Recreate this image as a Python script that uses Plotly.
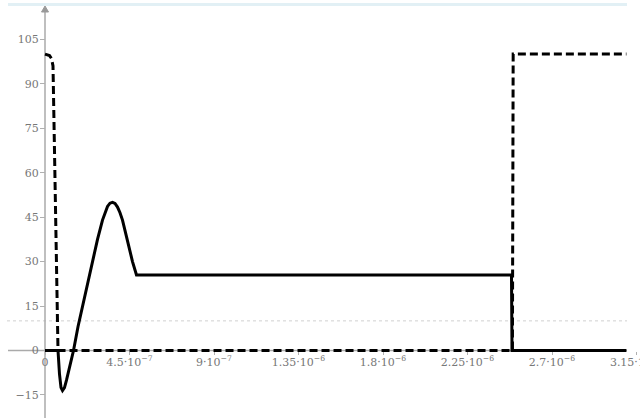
import plotly.graph_objects as go

# Solid curve (time in seconds, value)
solid_t = [0, 6.92e-8, 7.72e-8, 8.52e-8, 9.32e-8, 1.038e-7, 1.145e-7, 1.305e-7,
           1.518e-7, 1.757e-7, 1.997e-7, 2.263e-7, 2.529e-7, 2.796e-7, 3.062e-7,
           3.195e-7, 3.328e-7, 3.461e-7, 3.594e-7, 3.727e-7, 3.861e-7, 3.994e-7,
           4.127e-7, 4.393e-7, 4.659e-7, 4.872e-7,
           2.484e-6, 2.487e-6, 3.096e-6]
solid_v = [0, 0, -8, -12.5, -13.5, -12.5, -10, -5.5,
           0, 8, 15, 22.5, 30, 37.5, 44,
           46.7, 48.6, 49.7, 50, 49.6, 48.4, 46.5,
           44, 37, 30, 25.5,
           25.5, 0, 0]

# Dashed curve
dash_t = [0, 2.4e-8, 3.46e-8, 4.26e-8, 6.92e-8, 2.489e-6, 2.493e-6, 3.096e-6]
dash_v = [100, 99.5, 98.5, 96, 0, 0, 100, 100]

# Tick definitions
x_tickvals = [0, 4.5e-7, 9e-7, 1.35e-6, 1.8e-6, 2.25e-6, 2.7e-6, 3.15e-6]
x_ticktext = ["0", "4.5·10<sup>−7</sup>", "9·10<sup>−7</sup>", "1.35·10<sup>−6</sup>",
              "1.8·10<sup>−6</sup>", "2.25·10<sup>−6</sup>", "2.7·10<sup>−6</sup>",
              "3.15·10<sup>−6</sup>"]
y_tickvals = [-15, 0, 15, 30, 45, 60, 75, 90, 105]

W, H = 640, 418
k = 5.325e-9          # seconds per pixel
x0_px = 45.0
xr = [-x0_px * k, (W - x0_px) * k]
yr = [-22.77, 118.25]

def px(x):
    return x / W

def py(y):
    return 1 - y / H

fig = go.Figure()
fig.add_trace(go.Scatter(x=solid_t, y=solid_v, mode="lines",
                         line=dict(color="black", width=3), showlegend=False,
                         hoverinfo="skip"))
fig.add_trace(go.Scatter(x=dash_t, y=dash_v, mode="lines",
                         line=dict(color="black", width=3, dash="8px,4px"),
                         showlegend=False, hoverinfo="skip"))

font = dict(family="DejaVu Serif", size=11, color="#777777")
axis_y_frac = (0 - yr[0]) / (yr[1] - yr[0])

fig.update_layout(
    width=W, height=H,
    margin=dict(l=0, r=0, t=0, b=0, autoexpand=False),
    paper_bgcolor="white", plot_bgcolor="white",
    xaxis=dict(range=xr, anchor="free", position=axis_y_frac,
               showgrid=False, zeroline=False, showline=False,
               tickvals=x_tickvals, ticktext=x_ticktext,
               ticks="outside", ticklen=3, tickcolor="#b0b0b0",
               tickfont=font, automargin=False, ticklabeloverflow="allow",
               ticklabelstandoff=-2),
    yaxis=dict(range=yr, anchor="free", position=x0_px / W,
               showgrid=False, zeroline=False, showline=False,
               tickvals=y_tickvals, ticks="outside", ticklen=5,
               tickcolor="#b0b0b0", tickfont=font, automargin=False,
               ticklabeloverflow="allow", ticklabelstandoff=-1),
    shapes=[
        # top light band
        dict(type="line", xref="paper", yref="paper",
             x0=px(8), x1=px(627), y0=py(4.5), y1=py(4.5),
             line=dict(color="#e2f0f5", width=3), layer="below"),
        # dotted light reference line
        dict(type="line", xref="paper", yref="y",
             x0=px(7), x1=px(627), y0=10, y1=10,
             line=dict(color="#d0d0d0", width=1, dash="dot"), layer="below"),
        # x axis line
        dict(type="line", xref="paper", yref="y",
             x0=px(8), x1=px(627), y0=0, y1=0,
             line=dict(color="#aaaaaa", width=1.5), layer="below"),
        # y axis line
        dict(type="line", xref="x", yref="paper",
             x0=0, x1=0, y0=0, y1=py(11),
             line=dict(color="#aaaaaa", width=1.5), layer="below"),
        # arrow head
        dict(type="path", xref="paper", yref="paper",
             path=f"M {px(41.5)},{py(12)} L {px(45)},{py(6)} L {px(48.5)},{py(12)} Z",
             fillcolor="#999999", line=dict(color="#999999", width=1)),
    ],
)

fig.write_html("out.html",
               config={"displayModeBar": False},
               post_script="document.body.style.margin='0';document.body.style.overflow='hidden';")
